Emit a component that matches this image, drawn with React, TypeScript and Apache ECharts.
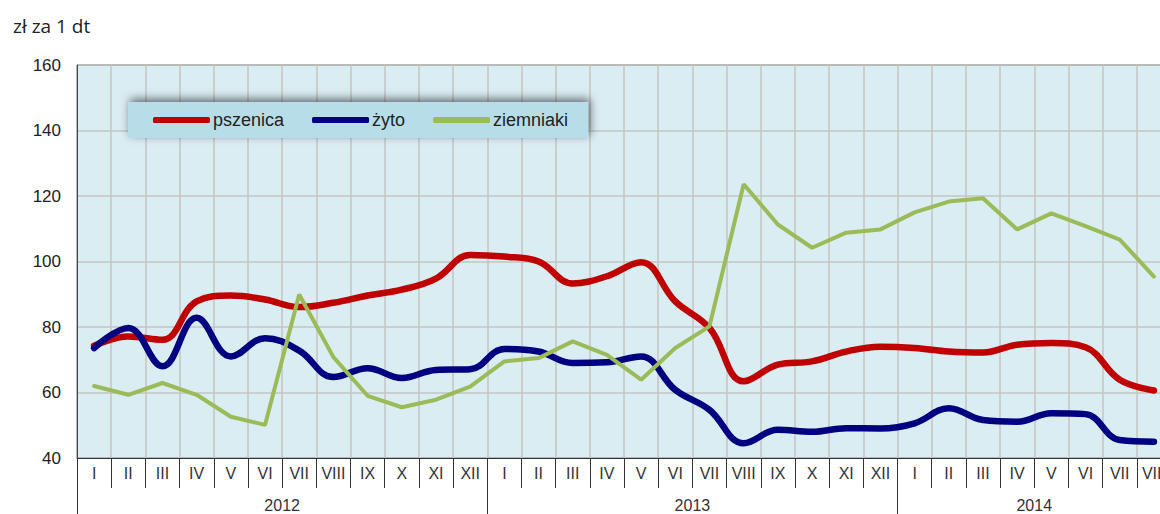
import React, { useEffect, useRef } from "react";
import * as echarts from "echarts";

const months = [
  "I", "II", "III", "IV", "V", "VI", "VII", "VIII", "IX", "X", "XI", "XII",
  "I", "II", "III", "IV", "V", "VI", "VII", "VIII", "IX", "X", "XI", "XII",
  "I", "II", "III", "IV", "V", "VI", "VII", "VIII",
];
const years = ["2012", "2013", "2014"];
const yearCenters = [6, 18, 28];
const yearBounds = [0, 12, 24, 32];

const pszenica = [
  74.3, 77.1, 76.1, 87.8, 89.6, 88.4, 86.1, 87.4, 89.6, 91.4, 94.8, 102.0,
  101.5, 100.0, 93.3, 95.5, 99.8, 87.8, 79.7, 63.4, 68.5, 69.5, 72.5, 74.0,
  73.6, 72.5, 72.2, 74.6, 75.1, 73.8, 63.9, 60.6,
];
const zyto = [
  73.6, 79.7, 68.0, 82.8, 71.0, 76.6, 72.8, 64.7, 67.4, 64.4, 66.9, 67.1,
  73.3, 72.5, 69.0, 69.2, 71.0, 60.8, 54.7, 44.5, 48.6, 48.0, 49.1, 49.0,
  50.6, 55.2, 51.6, 51.1, 53.7, 53.4, 45.5, 45.0,
];
const ziemniaki = [
  62.0, 59.3, 62.9, 59.3, 52.6, 50.1, 89.9, 70.8, 59.0, 55.5, 57.8, 61.8,
  69.5, 70.5, 75.6, 71.5, 63.9, 73.6, 80.2, 123.6, 111.3, 104.2, 108.8, 109.8,
  115.0, 118.3, 119.3, 109.8, 114.7, 110.8, 106.7, 95.4,
];

export default function App() {
  const ref = useRef<HTMLDivElement>(null);
  useEffect(() => {
    if (!ref.current) return;
    const chart = echarts.init(ref.current, null, { renderer: "svg" });
    const font = "'Liberation Sans', Arial, sans-serif";
    chart.setOption({
      animation: false,
      textStyle: { fontFamily: font },
      title: {
        text: "zł za 1 dt",
        left: 8,
        top: 11,
        textStyle: {
          fontFamily: "'Open Sans', sans-serif",
          fontSize: 19,
          fontWeight: "normal",
          color: "#222",
        },
      },
      legend: {
        left: 128,
        top: 102,
        padding: [9, 20, 9, 25],
        itemGap: 28,
        itemWidth: 57,
        itemHeight: 6,
        icon: "roundRect",
        backgroundColor: "#B7DDE8",
        shadowColor: "rgba(0,0,0,0.55)",
        shadowBlur: 10,
        shadowOffsetX: 2,
        shadowOffsetY: -3,
        textStyle: { fontSize: 18, color: "#222", fontFamily: font, padding: [0, 0, 0, -2] },
        data: ["pszenica", "żyto", "ziemniaki"],
      },
      grid: {
        left: 77,
        top: 65,
        right: 9,
        bottom: 56,
        show: true,
        backgroundColor: "#DAEDF3",
        borderColor: "#444",
        borderWidth: 1,
      },
      xAxis: [
        {
          type: "category",
          data: months,
          boundaryGap: true,
          axisLine: { show: true, lineStyle: { color: "#333", width: 1 } },
          axisTick: { show: true, interval: 0, length: 30, lineStyle: { color: "#333" } },
          axisLabel: { interval: 0, margin: 7, fontSize: 16, color: "#333", fontFamily: font },
          splitLine: { show: true, interval: 0, lineStyle: { color: "#C3C3C3", width: 1.5 } },
        },
        {
          type: "value",
          position: "bottom",
          min: 0,
          max: 32,
          axisLine: { show: false },
          axisTick: {
            show: true,
            customValues: yearBounds,
            length: 56,
            lineStyle: { color: "#333" },
          },
          axisLabel: {
            customValues: yearCenters,
            margin: 39,
            fontSize: 16,
            color: "#333",
            fontFamily: font,
            formatter: (v: number) => years[yearCenters.indexOf(v)] ?? "",
          },
          splitLine: { show: false },
        },
      ],
      yAxis: {
        type: "value",
        min: 40,
        max: 160,
        interval: 20,
        axisLine: { show: true, lineStyle: { color: "#444" } },
        axisTick: { show: false },
        axisLabel: { fontSize: 17, color: "#222", margin: 16, fontFamily: font },
        splitLine: { show: true, lineStyle: { color: "#C3C3C3", width: 1.5 } },
      },
      series: [
        {
          name: "pszenica",
          type: "line",
          data: pszenica,
          smooth: 0.4,
          symbol: "none",
          lineStyle: { color: "#C00000", width: 6.5, cap: "round" },
          itemStyle: { color: "#C00000" },
          z: 3,
        },
        {
          name: "żyto",
          type: "line",
          data: zyto,
          smooth: 0.4,
          symbol: "none",
          lineStyle: { color: "#000080", width: 6.5, cap: "round" },
          itemStyle: { color: "#000080" },
          z: 4,
        },
        {
          name: "ziemniaki",
          type: "line",
          data: ziemniaki,
          smooth: false,
          symbol: "none",
          lineStyle: { color: "#9BBB59", width: 4, cap: "round" },
          itemStyle: { color: "#9BBB59" },
          z: 5,
        },
      ],
    });
    return () => chart.dispose();
  }, []);
  return (
    <div
      style={{ position: "fixed", left: 0, top: 0, width: 1160, height: 514, overflow: "hidden", background: "#fff" }}
    >
      <div ref={ref} style={{ width: 1180, height: 514 }} />
    </div>
  );
}
